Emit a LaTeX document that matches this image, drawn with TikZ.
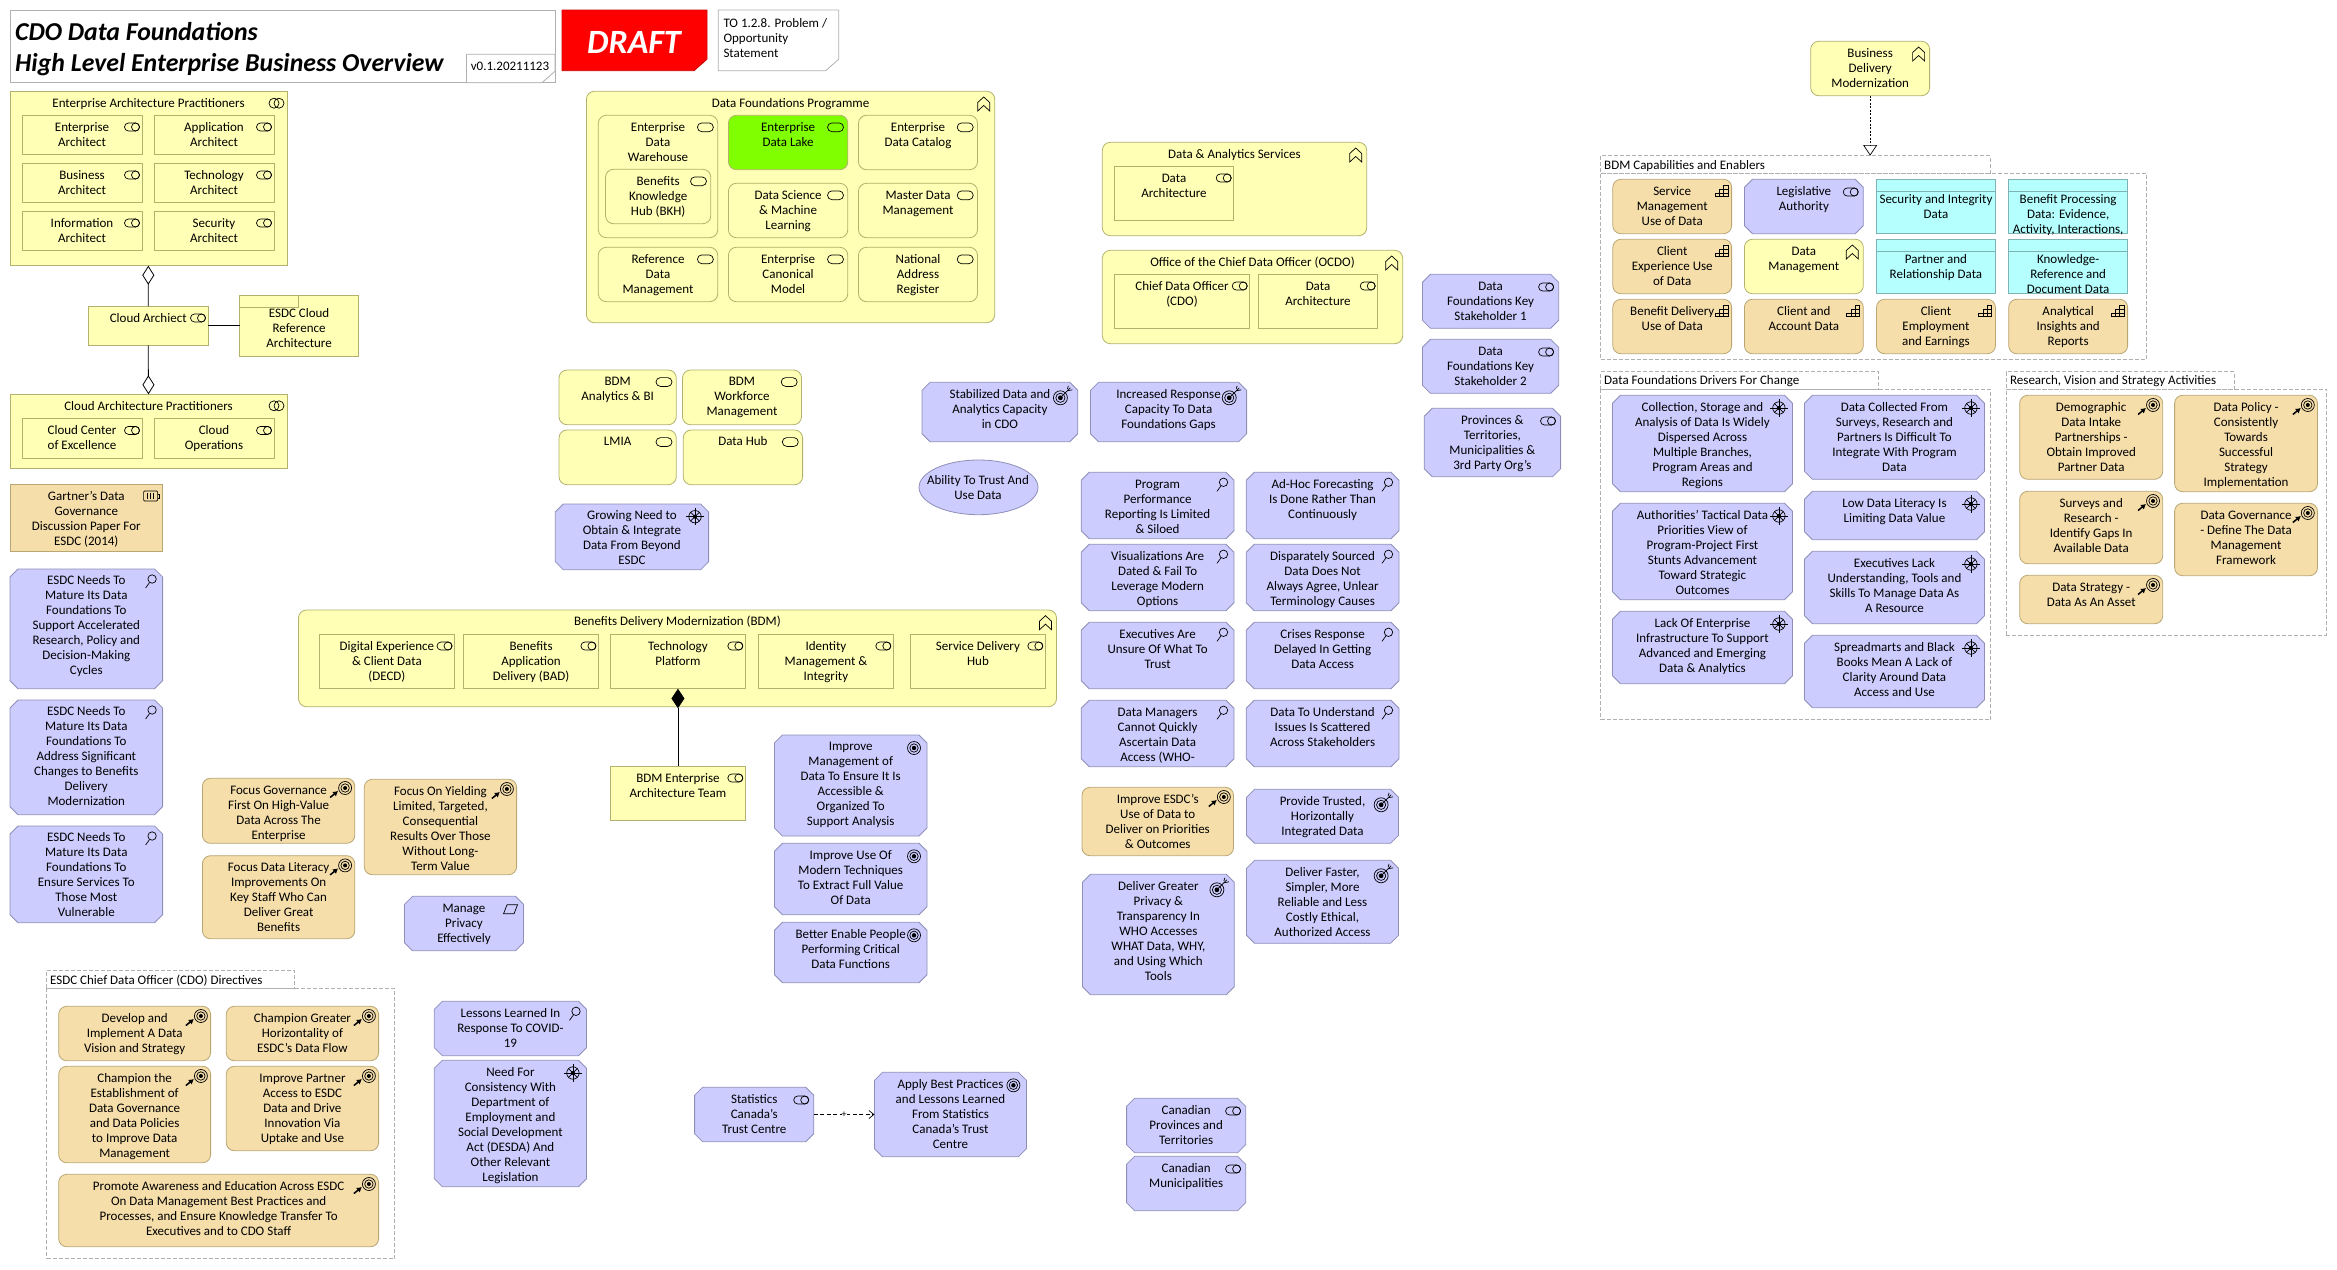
\documentclass[tikz,border=0pt]{standalone}
\usepackage{fontspec}
\setmainfont{Carlito}
\usetikzlibrary{arrows.meta, shapes.geometric}

\definecolor{bizyellow}{HTML}{FFFFB5}
\definecolor{bizline}{HTML}{B2B26E}
\definecolor{motpurple}{HTML}{CCCCFF}
\definecolor{motline}{HTML}{8E8EB8}
\definecolor{tanfill}{HTML}{F5DEAA}
\definecolor{tanline}{HTML}{B8A673}
\definecolor{datacyan}{HTML}{B5FFFF}
\definecolor{dataline}{HTML}{7FB3B3}
\definecolor{lakegreen}{HTML}{80FF00}
\definecolor{framegray}{HTML}{B0B0B0}

% box from (x1,y1) to (x2,y2) with its text hanging from the top edge
\newcommand{\elem}[8][5.2]{
    \node[#2, minimum width={#6-#4}, minimum height={#7-#5}] (#3) at ({(#4+#6)/2},{(#5+#7)/2}) {};
    \coordinate (#3-ne) at (#6,#5);
    \node[boxtext] (#3-t) at ({(#4+#6)/2},{#5+#1}) {\strut #8};
}
% the same with all four corners cut
\newcommand{\cutbox}[6]{
    \draw[box, fill=motpurple, draw=motline] ({#2+8},#3) -- ({#4-8},#3) -- (#4,{#3+8}) -- (#4,{#5-8}) -- ({#4-8},#5)
        -- ({#2+8},#5) -- (#2,{#5-8}) -- (#2,{#3+8}) -- cycle;
    \node[inner sep=0pt, outer sep=0pt, minimum width={#4-#2}, minimum height={#5-#3}] (#1) at ({(#2+#4)/2},{(#3+#5)/2}) {};
    \coordinate (#1-ne) at (#4,#3);
    \node[boxtext] (#1-t) at ({(#2+#4)/2},{#3+5.2}) {\strut #6};
}
% note with the lower right corner cut
\newcommand{\notebox}[6]{
    \draw[box, #6] (#2,#3) -- (#4,#3) -- (#4,{#5-11.5}) -- ({#4-13},#5) -- (#2,#5) -- cycle;
    \node[inner sep=0pt, outer sep=0pt, minimum width={#4-#2}, minimum height={#5-#3}] (#1) at ({(#2+#4)/2},{(#3+#5)/2}) {};
}
% dashed frame with a tab
\newcommand{\grp}[8]{
    \node[frame, minimum width={#6-#2}, minimum height={#7-#5}] (#1) at ({(#2+#6)/2},{(#5+#7)/2}) {};
    \node[frame, minimum width={#4-#2}, minimum height={#5-#3}] (#1-tab) at ({(#2+#4)/2},{(#3+#5)/2}) {};
    \node[boxtext, anchor=west] (#1-t) at ({#2+3.5},{(#3+#5)/2+1}) {#8};
}

\tikzset{
    box/.style={draw, line width=.8pt, inner sep=0pt, outer sep=0pt},
    boxtext/.style={inner sep=0pt, anchor=north, align=center, text=black,
        font=\fontsize{13}{15}\selectfont},
    yrect/.style={box, rectangle, fill=bizyellow, draw=bizline},
    yround/.style={box, rectangle, rounded corners=8pt, fill=bizyellow, draw=bizline},
    green/.style={box, rectangle, rounded corners=8pt, fill=lakegreen, draw=bizline},
    tround/.style={box, rectangle, rounded corners=8pt, fill=tanfill, draw=tanline},
    trect/.style={box, rectangle, fill=tanfill, draw=tanline},
    cyanbox/.style={box, rectangle, fill=datacyan, draw=dataline},
    frame/.style={draw=framegray, line width=.8pt, dash pattern=on 4pt off 2pt,
        inner sep=0pt, outer sep=0pt, rectangle},
    ink/.style={draw=black, line width=.7pt},
    pics/roleicon/.style={code={
        \draw[ink, rounded corners=4pt] (-7.5,-4) rectangle (7.5,4);
        \draw[ink] (3.5,0) circle[radius=4];
    }},
    pics/svcicon/.style={code={
        \draw[ink, rounded corners=4.4pt] (-8,-4.4) rectangle (8,4.4);
    }},
    pics/collabicon/.style={code={
        \draw[ink] (-2.5,0) circle[radius=5];
        \draw[ink] (2.5,0) circle[radius=5];
    }},
    pics/chevicon/.style={code={
        \draw[ink] (-6,7) -- (-6,-1.5) -- (0,-7) -- (6,-1.5) -- (6,7) -- (0,1.5) -- cycle;
    }},
    pics/lensicon/.style={code={
        \draw[ink] (1.5,-2) circle[radius=4.2];
        \draw[ink] (-1,1.5) -- (-5,7);
    }},
    pics/goalicon/.style={code={
        \draw[ink] (0,0) circle[radius=6.5];
        \draw[ink] (0,0) circle[radius=4.2];
        \fill (0,0) circle[radius=2.2];
    }},
    pics/dartpurple/.style={code={
        \draw[ink] (0,0) circle[radius=7];
        \draw[ink] (0,0) circle[radius=4.6];
        \fill (0,0) circle[radius=2.4];
        \draw[ink] (0,0) -- (10,-10);
        \draw[ink] (7,-9) -- (8,-12);
        \draw[ink] (7,-7) -- (12,-8);
    }},
    pics/darttan/.style={code={
        \draw[ink] (0,0) circle[radius=6.5];
        \draw[ink] (0,0) circle[radius=4.2];
        \fill (0,0) circle[radius=2];
        \draw[line width=1.5pt, -{Latex[length=5pt,width=6pt]}] (-15,9.5) -- (-7,3);
    }},
    pics/wheelicon/.style={code={
        \draw[ink] (0,0) circle[radius=6.2];
        \fill (0,0) circle[radius=2];
        \foreach \a in {45,135,225,315} \draw[ink] (0,0) -- (\a:6.2);
        \foreach \a in {0,90,180,270} \draw[ink] (0,0) -- (\a:8.6);
    }},
    pics/capicon/.style={code={
        \draw[ink] (-6.5,5.5) rectangle (6.5,1.8);
        \draw[ink] (-2.2,5.5) -- (-2.2,-2);
        \draw[ink] (2.2,5.5) -- (2.2,-5.5);
        \draw[ink] (-2.2,-2) rectangle (6.5,1.8);
        \draw[ink] (2.2,-5.5) rectangle (6.5,-2);
    }},
    pics/sheeticon/.style={code={
        \draw[ink, rounded corners=1pt] (-7,-5) rectangle (7,5);
        \draw[ink] (7,-2) -- (8.5,-2) -- (8.5,2) -- (7,2);
        \foreach \a in {-3,0,3} \draw[ink] (\a,-3) -- (\a,3);
    }},
    pics/slanticon/.style={code={
        \draw[ink] (-7,4.5) -- (-3.5,-4.5) -- (7,-4.5) -- (3.5,4.5) -- cycle;
    }},
}

\begin{document}
\begin{tikzpicture}[x=1pt, y=-1pt]
    \useasboundingbox (0,0) rectangle (2337,1269);

    % header
    \node[box, rectangle, draw=framegray, minimum width=545pt, minimum height=72.4pt] (titlebox) at (282.5,46.5) {};
    \node[inner sep=0pt, anchor=north west, align=left,
        font=\fontsize{25.8}{31.3}\selectfont\bfseries\itshape] (titletext) at (15,22) {CDO Data Foundations\\High Level Enterprise Business Overview};
    \notebox{version}{466.5}{54.3}{555}{82.7}{draw=framegray, fill=white}
    \node[boxtext, anchor=center] (version-t) at (510,66.7) {v0.1.20211123};
    \notebox{draft}{562}{10}{707}{70.7}{draw=red!80!black, fill=red}
    \node[inner sep=0pt, text=white, font=\fontsize{34}{34}\selectfont\bfseries\itshape] (draft-t) at (634,42.7) {DRAFT};
    \notebox{topage}{718.3}{10}{838.7}{70.7}{draw=framegray, fill=white}
    \node[boxtext, anchor=north west, align=left] (topage-t) at (723.3,18.5) {TO 1.2.8. Problem /\\Opportunity\\Statement};

    % enterprise architecture practitioners
    \elem{yrect}{eaprac}{10}{91.7}{287}{265.7}{Enterprise Architecture Practitioners}
    \elem{yrect}{entarch}{22}{115.3}{142}{154.7}{Enterprise\\Architect}
    \elem{yrect}{apparch}{154}{115.3}{274}{154.7}{Application\\Architect}
    \elem{yrect}{busarch}{22}{163.3}{142}{202.7}{Business\\Architect}
    \elem{yrect}{techarch}{154}{163.3}{274}{202.7}{Technology\\Architect}
    \elem{yrect}{infoarch}{22}{211.3}{142}{250.7}{Information\\Architect}
    \elem{yrect}{secarch}{154}{211.3}{274}{250.7}{Security\\Architect}
    \elem{yrect}{cloudarch}{88.4}{306.3}{208}{345.3}{Cloud Archiect}
    \elem{yrect}{cloudprac}{10}{394.3}{287}{468}{Cloud Architecture Practitioners}
    \elem{yrect}{cloudcoe}{22}{418.7}{142}{458}{Cloud Center\\of Excellence}
    \elem{yrect}{cloudops}{154}{418.7}{274}{458}{Cloud\\Operations}
    \elem[11.9]{yrect}{cloudref}{239.6}{295.3}{358.6}{356.7}{ESDC Cloud\\Reference\\Architecture}
    \draw[box, draw=bizline] (239.6,307) -- (298.5,307) -- (298.5,295.3);

    % data foundations programme
    \elem{yround}{dfprog}{586.4}{91.3}{994.7}{322.7}{Data Foundations Programme}
    \elem{yround}{edw}{598.3}{115.3}{717.7}{237.7}{Enterprise\\Data\\Warehouse}
    \elem{yround}{bkh}{605.5}{169.3}{710.8}{223.7}{Benefits\\Knowledge\\Hub (BKH)}
    \elem{green}{lake}{728.4}{115.3}{847.8}{169.7}{Enterprise\\Data Lake}
    \elem{yround}{catalog}{858.5}{115.3}{977.5}{169.7}{Enterprise\\Data Catalog}
    \elem{yround}{dsml}{728.4}{183.3}{847.8}{237.7}{Data Science\\\& Machine\\Learning}
    \elem{yround}{mdm}{858.5}{183.3}{977.5}{237.7}{Master Data\\Management}
    \elem{yround}{rdm}{598.3}{247.3}{717.7}{301.7}{Reference\\Data\\Management}
    \elem{yround}{canon}{728.4}{247.3}{847.8}{301.7}{Enterprise\\Canonical\\Model}
    \elem{yround}{natreg}{858.5}{247.3}{977.5}{301.7}{National\\Address\\Register}

    \elem{yround}{bdmbi}{559}{370}{676.3}{424.7}{BDM\\Analytics \& BI}
    \elem{yround}{bdmwork}{682.5}{370}{801.5}{424.7}{BDM\\Workforce\\Management}
    \elem{yround}{lmia}{559}{430}{676.3}{484.7}{LMIA}
    \elem{yround}{datahub}{683.2}{430}{802.6}{484.7}{Data Hub}
    \cutbox{growneed}{555.3}{504}{708.6}{569.7}{Growing Need to\\Obtain \& Integrate\\Data From Beyond\\ESDC}

    % data and analytics, ocdo
    \elem{yround}{dasvc}{1102.3}{142.3}{1366.7}{235.7}{Data \& Analytics Services}
    \elem{yrect}{daarch}{1114.3}{166.3}{1233.7}{220.3}{Data\\Architecture}
    \elem{yround}{ocdo}{1102.3}{250.3}{1402.7}{343.7}{Office of the Chief Data Officer (OCDO)}
    \elem{yrect}{cdo}{1114.3}{274.3}{1249.7}{328.3}{Chief Data Officer\\(CDO)}
    \elem{yrect}{ocdoarch}{1258.3}{274.3}{1377.7}{328.3}{Data\\Architecture}

    \cutbox{stake1}{1422.4}{274.3}{1558.7}{328.3}{Data\\Foundations Key\\Stakeholder 1}
    \cutbox{stake2}{1422.4}{339.3}{1558.7}{393.3}{Data\\Foundations Key\\Stakeholder 2}
    \cutbox{provs}{1424.2}{408.3}{1560.6}{476.7}{Provinces \&\\Territories,\\Municipalities \&\\3rd Party Org's}

    % business delivery modernization
    \elem{yround}{bdmod}{1810.7}{41.3}{1929.6}{95.7}{Business\\Delivery\\Modernization}
    \grp{bdmcap}{1600.5}{155.7}{1990.3}{173.7}{2146.4}{359.3}{BDM Capabilities and Enablers}
    \elem{tround}{svcuse}{1612.8}{179.3}{1731.6}{233.7}{Service\\Management\\Use of Data}
    \cutbox{legis}{1744.4}{179.3}{1863.3}{233.7}{Legislative\\Authority}
    \elem[13.2]{cyanbox}{secdata}{1876.5}{179.3}{1995.4}{233.7}{Security and Integrity\\Data}
    \elem[13.2]{cyanbox}{bendata}{2008.7}{179.3}{2127.6}{233.7}{Benefit Processing\\Data: Evidence,\\Activity, Interactions,}
    \elem{tround}{clientuse}{1612.8}{239.3}{1731.6}{293.7}{Client\\Experience Use\\of Data}
    \elem{yround}{datamgmt}{1744.4}{239.3}{1863.3}{293.7}{Data\\Management}
    \elem[13.2]{cyanbox}{partdata}{1876.5}{239.3}{1995.4}{293.7}{Partner and\\Relationship Data}
    \elem[13.2]{cyanbox}{knowdata}{2008.7}{239.3}{2127.6}{293.7}{Knowledge-\\Reference and\\Document Data}
    \elem{tround}{benuse}{1612.8}{299.3}{1731.6}{353.7}{Benefit Delivery\\Use of Data}
    \elem{tround}{acctdata}{1744.4}{299.3}{1863.3}{353.7}{Client and\\Account Data}
    \elem{tround}{empldata}{1876.5}{299.3}{1995.4}{353.7}{Client\\Employment\\and Earnings}
    \elem{tround}{insight}{2008.7}{299.3}{2127.6}{353.7}{Analytical\\Insights and\\Reports}
    \foreach \n in {secdata,bendata,partdata,knowdata}
        \draw[box, draw=dataline] ([yshift=-12.3pt]\n-ne) -- ++(-118.9,0);

    % drivers for change
    \grp{drivers}{1600.5}{371.7}{1878.7}{389.3}{1990.7}{719.3}{Data Foundations Drivers For Change}
    \cutbox{collect}{1612.4}{395.3}{1792.5}{491.7}{Collection, Storage and\\Analysis of Data Is Widely\\Dispersed Across\\Multiple Branches,\\Program Areas and\\Regions}
    \cutbox{tactical}{1612.4}{503.3}{1792.5}{599.7}{Authorities' Tactical Data\\Priorities View of\\Program-Project First\\Stunts Advancement\\Toward Strategic\\Outcomes}
    \cutbox{infra}{1612.4}{611.3}{1792.5}{683.7}{Lack Of Enterprise\\Infrastructure To Support\\Advanced and Emerging\\Data \& Analytics}
    \cutbox{surveyed}{1804.4}{395.3}{1984.5}{479.3}{Data Collected From\\Surveys, Research and\\Partners Is Difficult To\\Integrate With Program\\Data}
    \cutbox{literacy}{1804.4}{491.3}{1984.5}{539.7}{Low Data Literacy Is\\Limiting Data Value}
    \cutbox{execlack}{1804.4}{551.3}{1984.5}{623.7}{Executives Lack\\Understanding, Tools and\\Skills To Manage Data As\\A Resource}
    \cutbox{sprmart}{1804.4}{635.3}{1984.5}{707.7}{Spreadmarts and Black\\Books Mean A Lack of\\Clarity Around Data\\Access and Use}

    % research, vision and strategy
    \grp{research}{2006.4}{371.7}{2234.6}{389.3}{2326.5}{635.3}{Research, Vision and Strategy Activities}
    \elem{tround}{demog}{2019.7}{395.3}{2162.7}{479.3}{Demographic\\Data Intake\\Partnerships -\\Obtain Improved\\Partner Data}
    \elem{tround}{surveys}{2019.7}{491.3}{2162.7}{563.7}{Surveys and\\Research -\\Identify Gaps In\\Available Data}
    \elem{tround}{datastrat}{2019.7}{575.3}{2162.7}{623.7}{Data Strategy -\\Data As An Asset}
    \elem{tround}{datapol}{2174.6}{395.3}{2317.5}{491.7}{Data Policy -\\Consistently\\Towards\\Successful\\Strategy\\Implementation}
    \elem{tround}{datagov}{2174.6}{503.3}{2317.5}{575.7}{Data Governance\\- Define The Data\\Management\\Framework}

    % middle column
    \cutbox{stabil}{922}{382.3}{1077.8}{441.7}{Stabilized Data and\\Analytics Capacity\\in CDO}
    \cutbox{incresp}{1090.5}{382.3}{1246.6}{441.7}{Increased Response\\Capacity To Data\\Foundations Gaps}
    \node[box, ellipse, fill=motpurple, draw=motline, minimum width=119pt, minimum height=54.7pt] (trust) at (978.5,487.35) {};
    \node[boxtext, anchor=center] (trust-t) at (978,487.5) {Ability To Trust And\\Use Data};
    \cutbox{progperf}{1081.2}{472.3}{1234}{538.7}{Program\\Performance\\Reporting Is Limited\\\& Siloed}
    \cutbox{adhoc}{1246.2}{472.3}{1399}{538.7}{Ad-Hoc Forecasting\\Is Done Rather Than\\Continuously}
    \cutbox{visual}{1081.2}{544.3}{1234}{610.7}{Visualizations Are\\Dated \& Fail To\\Leverage Modern\\Options}
    \cutbox{dispar}{1246.2}{544.3}{1399}{610.7}{Disparately Sourced\\Data Does Not\\Always Agree, Unlear\\Terminology Causes}
    \cutbox{unsure}{1081.2}{622.3}{1234}{688.7}{Executives Are\\Unsure Of What To\\Trust}
    \cutbox{crises}{1246.2}{622.3}{1399}{688.7}{Crises Response\\Delayed In Getting\\Data Access}
    \cutbox{managers}{1081.2}{700.3}{1234}{766.7}{Data Managers\\Cannot Quickly\\Ascertain Data\\Access (WHO-}
    \cutbox{scatter}{1246.2}{700.3}{1399}{766.7}{Data To Understand\\Issues Is Scattered\\Across Stakeholders}
    \elem{tround}{useesdc}{1082}{787.3}{1233.5}{855.7}{Improve ESDC's\\Use of Data to\\Deliver on Priorities\\\& Outcomes}
    \cutbox{delgreat}{1082.4}{874.3}{1234.3}{994.7}{Deliver Greater\\Privacy \&\\Transparency In\\WHO Accesses\\WHAT Data, WHY,\\and Using Which\\Tools}
    \cutbox{trusted}{1246.5}{789.3}{1398.5}{843.3}{Provide Trusted,\\Horizontally\\Integrated Data}
    \cutbox{faster}{1246.5}{860.3}{1398.5}{943.3}{Deliver Faster,\\Simpler, More\\Reliable and Less\\Costly Ethical,\\Authorized Access}

    % benefits delivery modernization
    \elem{yround}{bdm}{298.5}{610}{1056.5}{706.7}{Benefits Delivery Modernization (BDM)}
    \elem{yrect}{decd}{319.3}{634.3}{454.5}{688.7}{Digital Experience\\\& Client Data\\(DECD)}
    \elem{yrect}{bad}{463.7}{634.3}{598.4}{688.7}{Benefits\\Application\\Delivery (BAD)}
    \elem{yrect}{techplat}{610.6}{634.3}{745.3}{688.7}{Technology\\Platform}
    \elem{yrect}{identity}{758.6}{634.3}{893.3}{688.7}{Identity\\Management \&\\Integrity}
    \elem{yrect}{svchub}{910.6}{634.3}{1045.3}{688.7}{Service Delivery\\Hub}
    \elem{yrect}{bdmteam}{610.6}{766.3}{745.3}{820.7}{BDM Enterprise\\Architecture Team}
    \cutbox{impmgmt}{774.4}{735}{927}{836}{Improve\\Management of\\Data To Ensure It Is\\Accessible \&\\Organized To\\Support Analysis}
    \cutbox{impuse}{774.4}{843.3}{927}{914.7}{Improve Use Of\\Modern Techniques\\To Extract Full Value\\Of Data}
    \cutbox{enable}{774.4}{922.3}{927}{982.7}{Better Enable People\\Performing Critical\\Data Functions}

    % left column
    \elem{trect}{gartner}{10}{484.3}{162.6}{551.7}{Gartner's Data\\Governance\\Discussion Paper For\\ESDC (2014)}
    \cutbox{matur1}{10}{569}{162.6}{688.7}{ESDC Needs To\\Mature Its Data\\Foundations To\\Support Accelerated\\Research, Policy and\\Decision-Making\\Cycles}
    \cutbox{matur2}{10}{700}{162.6}{814.7}{ESDC Needs To\\Mature Its Data\\Foundations To\\Address Significant\\Changes to Benefits\\Delivery\\Modernization}
    \cutbox{matur3}{10}{826}{162.6}{922.7}{ESDC Needs To\\Mature Its Data\\Foundations To\\Ensure Services To\\Those Most\\Vulnerable}
    \elem{tround}{focgov}{202.4}{778.3}{354.8}{843.3}{Focus Governance\\First On High-Value\\Data Across The\\Enterprise}
    \elem{tround}{foclit}{202.4}{855.7}{354.8}{938.7}{Focus Data Literacy\\Improvements On\\Key Staff Who Can\\Deliver Great\\Benefits}
    \elem{tround}{focyield}{364.3}{779.3}{516.6}{874.7}{Focus On Yielding\\Limited, Targeted,\\Consequential\\Results Over Those\\Without Long-\\Term Value}
    \cutbox{privacy}{404.5}{896.3}{523.5}{950.7}{Manage\\Privacy\\Effectively}

    % cdo directives
    \grp{directives}{46.5}{970.3}{294.8}{988.3}{394.7}{1258.3}{ESDC Chief Data Officer (CDO) Directives}
    \elem{tround}{develop}{58.7}{1006.3}{210.6}{1060.7}{Develop and\\Implement A Data\\Vision and Strategy}
    \elem{tround}{horiz}{226.3}{1006.3}{378.6}{1060.7}{Champion Greater\\Horizontality of\\ESDC's Data Flow}
    \elem{tround}{establish}{58.7}{1066.3}{210.6}{1162.7}{Champion the\\Establishment of\\Data Governance\\and Data Policies\\to Improve Data\\Management}
    \elem{tround}{partner}{226.3}{1066.3}{378.6}{1150.7}{Improve Partner\\Access to ESDC\\Data and Drive\\Innovation Via\\Uptake and Use}
    \elem{tround}{promote}{58.7}{1174.3}{378.6}{1246.7}{Promote Awareness and Education Across ESDC\\On Data Management Best Practices and\\Processes, and Ensure Knowledge Transfer To\\Executives and to CDO Staff}

    \cutbox{covid}{434.3}{1001.3}{586.5}{1055.7}{Lessons Learned In\\Response To COVID-\\19}
    \cutbox{desda}{434.3}{1060.3}{586.5}{1186.7}{Need For\\Consistency With\\Department of\\Employment and\\Social Development\\Act (DESDA) And\\Other Relevant\\Legislation}
    \cutbox{statcan}{694.6}{1087.3}{813.8}{1141.7}{Statistics\\Canada's\\Trust Centre}
    \cutbox{applybest}{874.5}{1072.3}{1026.4}{1156.7}{Apply Best Practices\\and Lessons Learned\\From Statistics\\Canada's Trust\\Centre}
    \cutbox{canprov}{1126.6}{1098.3}{1245.7}{1152.7}{Canadian\\Provinces and\\Territories}
    \cutbox{canmun}{1126.6}{1156.3}{1245.7}{1210.7}{Canadian\\Municipalities}

    % connectors
    \draw[line width=.8pt, {Diamond[open,length=19pt,width=12pt]}-] (eaprac) -- (cloudarch);
    \draw[line width=.8pt, {Diamond[open,length=19pt,width=12pt]}-] (cloudprac.north) -- (cloudarch.south);
    \draw[line width=.8pt] (cloudarch.east) -- (cloudarch.east -| cloudref.west);
    \draw[line width=.8pt, {Diamond[length=19.6pt,width=13pt]}-] (techplat.south) -- (bdmteam.north);
    \draw[line width=.7pt, dash pattern=on 2pt off 1.5pt, -{Triangle[open,length=10.7pt,width=14pt]}] (bdmod.south) -- (bdmod.south |- bdmcap-tab.north);
    \draw[line width=.7pt, dash pattern=on 4pt off 2.5pt, -{Straight Barb[length=5pt,width=8pt]}] (statcan.east) -- node[inner sep=0pt, fill=white, font=\fontsize{10}{10}\selectfont] (statplus) {+} (applybest.west |- statcan.east);

    % icons
    \foreach \n in {entarch,apparch,busarch,techarch,infoarch,secarch,cloudarch,cloudcoe,cloudops,decd,bad,techplat,identity,svchub,bdmteam,daarch,cdo,ocdoarch}
        \pic at ([xshift=-10pt,yshift=-11.7pt]\n-ne) {roleicon};
    \foreach \n in {stake1,stake2,provs,legis,statcan,canprov,canmun}
        \pic at ([xshift=-12.6pt,yshift=-12.7pt]\n-ne) {roleicon};
    \foreach \n in {edw,bkh,lake,catalog,dsml,mdm,rdm,canon,natreg,bdmbi,bdmwork,lmia,datahub}
        \pic at ([xshift=-12.3pt,yshift=-12pt]\n-ne) {svcicon};
    \foreach \n in {eaprac,cloudprac}
        \pic at ([xshift=-10.5pt,yshift=-11.5pt]\n-ne) {collabicon};
    \foreach \n in {dfprog,bdm,dasvc,ocdo,bdmod,datamgmt}
        \pic at ([xshift=-11pt,yshift=-12.7pt]\n-ne) {chevicon};
    \foreach \n in {matur1,matur2,matur3,covid,progperf,adhoc,visual,dispar,unsure,crises,managers,scatter}
        \pic at ([xshift=-12pt,yshift=-12pt]\n-ne) {lensicon};
    \foreach \n in {impmgmt,impuse,enable,applybest}
        \pic at ([xshift=-13pt,yshift=-13pt]\n-ne) {goalicon};
    \foreach \n in {stabil,incresp,delgreat,trusted,faster}
        \pic at ([xshift=-17.4pt,yshift=-15.5pt]\n-ne) {dartpurple};
    \foreach \n in {focgov,foclit,focyield,useesdc,demog,surveys,datastrat,datapol,datagov,develop,horiz,establish,partner,promote}
        \pic at ([xshift=-9.7pt,yshift=-9.7pt]\n-ne) {darttan};
    \foreach \n in {growneed,collect,tactical,infra,surveyed,literacy,execlack,sprmart,desda}
        \pic at ([xshift=-13.6pt,yshift=-12.7pt]\n-ne) {wheelicon};
    \foreach \n in {svcuse,clientuse,benuse,acctdata,empldata,insight}
        \pic at ([xshift=-10.2pt,yshift=-12pt]\n-ne) {capicon};
    \pic at ([xshift=-12pt,yshift=-11.7pt]gartner-ne) {sheeticon};
    \pic at ([xshift=-13pt,yshift=-13pt]privacy-ne) {slanticon};
\end{tikzpicture}
\end{document}
